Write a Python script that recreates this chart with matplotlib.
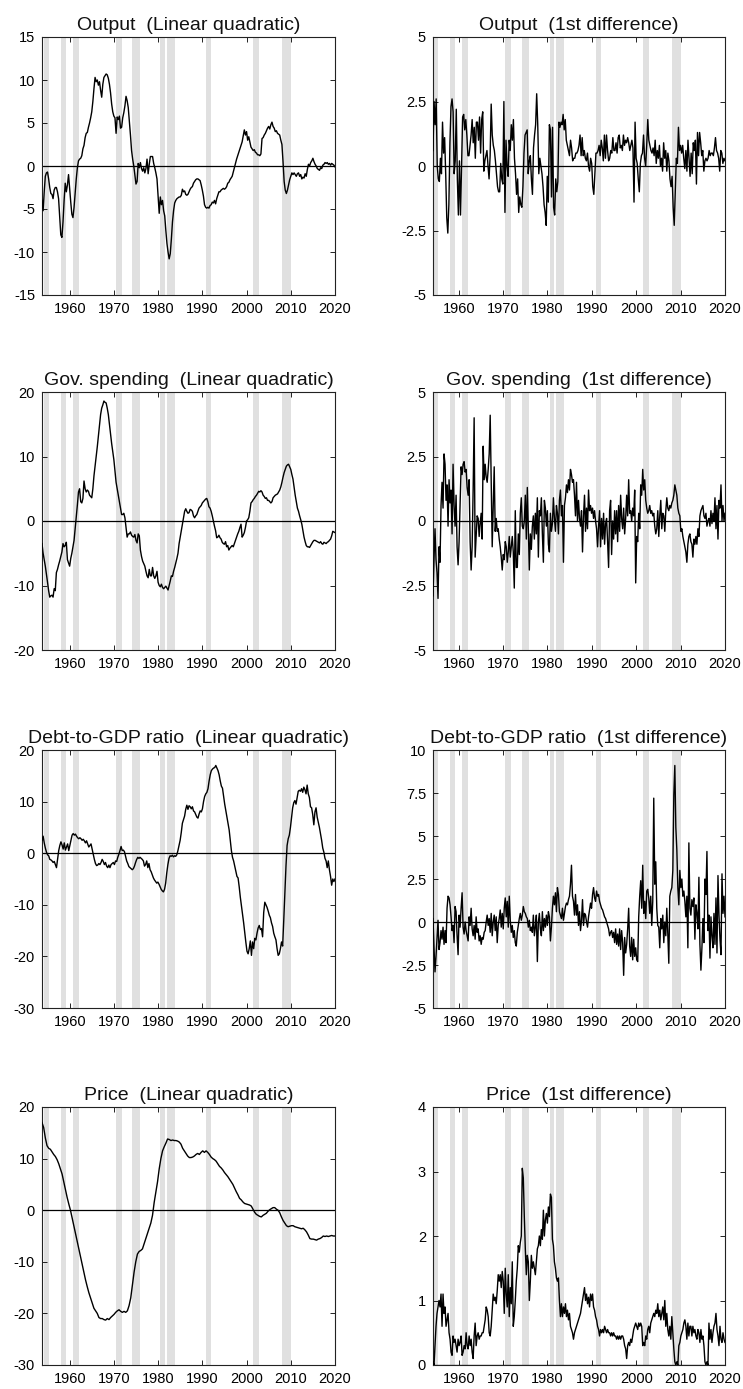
import numpy as np
import matplotlib
matplotlib.use("Agg")
import matplotlib.pyplot as plt
from matplotlib.ticker import FuncFormatter

plt.rcParams['font.family'] = ['Liberation Sans', 'DejaVu Sans']
plt.rcParams['axes.unicode_minus'] = False

# NBER-style recession shading (fractional years)
recession_start = [1954.2, 1958.0, 1960.65, 1970.35, 1974.15, 1980.5, 1982.0, 1990.9, 2001.55, 2008.1]
recession_end = [1955.3, 1959.1, 1962.0, 1971.75, 1975.9, 1981.45, 1983.75, 1991.95, 2002.85, 2010.1]

year_ticks = [1960, 1970, 1980, 1990, 2000, 2010, 2020]

# Linear-quadratic detrended series, quarterly from 1953Q4
output_lq = [
    -4.0,
    -5.2, -3.0, -1.2, -0.8, -0.7, -1.5, -2.5, -3.2, -3.3, -3.8, -2.8, -2.5,
    -2.5, -3.0, -3.8, -6.0, -8.0, -8.3, -6.5, -4.0, -2.0, -3.0, -2.2, -1.0,
    -2.6, -4.2, -5.6, -6.0, -4.8, -3.2, -1.5, -0.2, 0.6, 0.8, 0.9, 1.2,
    2.0, 2.4, 3.3, 3.8, 3.9, 4.5, 5.0, 5.6, 6.3, 7.5, 9.0, 10.3,
    9.8, 10.0, 9.4, 9.8, 8.8, 8.0, 9.5, 10.3, 10.5, 10.7, 10.6, 10.2,
    9.5, 8.5, 7.2, 6.3, 5.8, 5.6, 3.8, 5.7, 5.4, 5.8, 4.4, 4.5,
    5.6, 6.2, 7.0, 8.1, 7.6, 6.8, 5.2, 3.6, 1.8, 0.8, 0.0, -1.0,
    -2.1, -1.8, 0.3, -0.2, 0.4, -0.3, -0.6, -0.2, -0.8, -0.3, 0.8, -0.9,
    0.2, 1.1, 1.1, 1.1, 0.3, -0.2, -0.8, -1.5, -3.5, -5.5, -3.6, -4.5,
    -4.0, -5.2, -5.8, -7.5, -9.0, -10.0, -10.8, -10.2, -8.5, -6.5, -5.2, -4.3,
    -4.0, -3.8, -3.7, -3.6, -3.6, -3.4, -2.7, -3.0, -2.9, -3.3, -3.4, -3.3,
    -3.0, -2.7, -2.5, -2.4, -2.0, -1.8, -1.6, -1.5, -1.5, -1.6, -1.7, -2.2,
    -2.8, -3.5, -4.5, -4.8, -4.9, -4.8, -4.9, -4.6, -4.5, -4.2, -4.3, -4.0,
    -4.4, -3.8, -3.4, -3.0, -3.0, -2.8, -2.7, -2.6, -2.7, -2.6, -2.4, -2.0,
    -1.9, -1.6, -1.4, -1.2, -0.7, -0.2, 0.3, 0.8, 1.2, 1.6, 2.0, 2.4,
    2.8, 3.5, 4.2, 3.6, 4.0, 3.0, 3.4, 2.8, 2.2, 2.0, 1.8, 1.9,
    1.6, 1.5, 1.3, 1.3, 1.2, 1.4, 3.2, 3.3, 3.6, 3.8, 4.1, 4.4,
    4.6, 4.3, 4.8, 5.1, 4.6, 4.4, 4.0, 4.1, 3.8, 3.7, 3.6, 3.0,
    2.5, 0.5, -1.8, -2.8, -3.2, -2.8, -2.2, -1.6, -1.2, -0.8, -1.0, -0.8,
    -1.0, -1.2, -0.9, -0.8, -1.2, -1.0, -1.5, -1.3, -1.4, -0.9, -1.2, -0.4,
    0.2, 0.0, 0.4, 0.6, 0.9, 0.5, 0.2, 0.0, -0.3, -0.4, -0.5, -0.2,
    -0.3, 0.1, 0.2, 0.4, 0.3, 0.4, 0.2, 0.3, 0.1, 0.3, 0.2, 0.1,
    -0.1,
]

gov_lq = [
    -3.5,
    -5.0, -6.0, -7.0, -8.2, -9.5, -10.8, -11.8, -11.6, -11.5, -11.8, -10.5, -10.8,
    -8.0, -7.5, -6.8, -6.2, -5.5, -4.8, -3.5, -4.0, -3.8, -3.3, -6.0, -6.5,
    -7.0, -5.8, -5.0, -4.0, -3.0, -1.2, 0.5, 2.5, 4.5, 5.0, 3.0, 2.8,
    3.5, 6.2, 5.0, 4.5, 4.8, 4.6, 4.0, 3.8, 3.6, 5.0, 7.0, 8.5,
    10.0, 11.5, 13.2, 15.0, 16.5, 17.5, 18.0, 18.6, 18.4, 18.3, 17.5, 16.5,
    15.0, 13.5, 12.0, 10.8, 9.5, 7.8, 6.0, 5.0, 4.0, 3.0, 2.0, 1.0,
    1.0, 1.2, 0.5, -1.0, -2.5, -2.0, -2.0, -1.7, -2.2, -2.4, -2.5, -2.1,
    -3.0, -3.4, -2.0, -2.3, -4.5, -5.5, -6.2, -6.6, -7.0, -7.8, -8.5, -8.8,
    -7.5, -8.5, -8.5, -7.2, -8.5, -8.9, -8.5, -7.8, -9.5, -10.0, -10.2, -9.8,
    -10.3, -10.5, -10.3, -10.1, -10.4, -10.7, -10.0, -9.3, -8.5, -8.6, -7.8, -7.2,
    -6.5, -5.8, -5.0, -3.5, -2.5, -1.5, -0.5, 0.5, 1.5, 1.9, 1.5, 1.2,
    1.3, 1.8, 1.7, 1.5, 0.8, 0.5, 0.8, 1.0, 1.5, 2.0, 2.2, 2.4,
    2.8, 3.0, 3.2, 3.4, 3.5, 3.0, 2.2, 2.0, 1.5, 0.8, 0.0, -0.8,
    -1.5, -2.6, -2.5, -2.2, -2.6, -2.8, -3.3, -3.5, -3.6, -3.2, -4.0, -3.8,
    -4.5, -4.2, -4.0, -3.8, -4.0, -3.5, -3.0, -2.5, -2.0, -1.6, -1.0, -0.5,
    -2.5, -2.2, -1.8, -1.0, 0.0, 0.2, 0.5, 1.5, 2.8, 3.0, 3.3, 3.5,
    3.8, 4.0, 4.3, 4.6, 4.5, 4.7, 4.5, 4.0, 3.8, 3.5, 3.6, 3.2,
    3.2, 3.0, 2.8, 3.0, 3.6, 3.8, 4.0, 4.1, 4.2, 4.5, 4.8, 5.3,
    6.0, 6.8, 7.5, 8.0, 8.5, 8.7, 8.8, 8.4, 8.0, 7.2, 6.5, 5.2,
    4.0, 3.0, 2.0, 1.5, 0.8, 0.2, -0.5, -1.5, -2.5, -3.2, -3.8, -4.0,
    -4.0, -4.1, -3.8, -3.5, -3.2, -3.0, -3.0, -3.1, -3.2, -3.3, -3.4, -3.2,
    -3.5, -3.6, -3.3, -3.4, -3.5, -3.3, -3.2, -3.0, -2.8, -2.3, -1.6, -1.7,
    -1.8,
]

debt_lq = [
    2.5, 3.3, 2.0, 1.0, 0.2, -0.3, -0.5, -1.2, -1.3, -1.5, -1.8, -1.6, -2.2, -2.8,
    -1.2, 0.5, 1.5, 2.2, 1.6, 0.8, 2.0, 0.6, 1.2, 1.8, 0.5, 1.5, 2.5, 3.5, 3.8,
    3.5, 3.7, 3.3, 3.0, 2.8, 3.0, 2.8, 2.5, 2.7, 2.4, 2.0, 2.4, 1.8, 1.2, 1.5, 1.8,
    0.8, -0.3, -1.2, -2.0, -2.4, -2.3, -2.0, -2.2, -1.8, -1.2, -1.6, -2.2, -1.8,
    -2.5, -2.8, -2.3, -2.8, -2.2, -2.0, -1.8, -2.2, -1.5, -1.6, -0.8, -0.2, 0.5,
    1.3, 0.5, 0.6, 0.3, -0.6, -1.5, -2.0, -2.6, -2.8, -3.0, -3.2, -3.0, -2.5, -1.8,
    -1.2, -0.8, -1.0, -0.8, -1.0, -1.2, -1.5, -2.5, -2.2, -1.5, -2.8, -2.0, -3.2,
    -3.6, -4.2, -4.8, -5.2, -5.5, -5.8, -5.6, -6.0, -6.5, -7.0, -7.3, -7.5, -7.0,
    -5.8, -3.8, -2.2, -1.0, -0.5, -0.6, -0.4, -0.7, -0.5, -0.6, -0.3, 0.5, 1.5,
    2.5, 4.0, 5.8, 6.5, 7.2, 8.5, 9.3, 8.5, 9.2, 9.0, 8.6, 9.0, 8.2, 8.0, 7.5,
    7.0, 6.8, 7.6, 8.2, 8.0, 8.6, 10.0, 11.0, 11.5, 11.8, 12.5, 14.0, 15.2, 16.0,
    16.3, 16.5, 16.6, 17.0, 16.5, 16.0, 15.2, 14.0, 13.0, 12.6, 11.0, 9.5, 8.2,
    7.0, 5.8, 4.5, 2.5, 0.5, -0.8, -1.5, -2.5, -3.5, -4.5, -4.8, -6.5, -8.5,
    -10.2, -12.0, -13.5, -15.5, -17.3, -19.0, -19.5, -18.5, -17.0, -19.8, -17.2,
    -18.5, -16.5, -16.8, -15.5, -14.5, -14.0, -14.8, -14.6, -16.2, -11.5, -9.5,
    -10.0, -10.5, -11.2, -12.0, -12.5, -13.5, -14.2, -15.5, -16.2, -16.8, -18.5,
    -19.8, -19.5, -18.5, -17.2, -18.0, -13.0, -7.5, -2.5, 1.5, 2.8, 3.5, 5.0,
    7.0, 8.8, 9.8, 10.2, 9.5, 10.8, 12.0, 12.2, 12.0, 12.5, 11.8, 12.8, 12.3,
    11.5, 13.2, 11.5, 10.8, 9.0, 8.8, 7.5, 5.5, 8.0, 8.8, 7.0, 6.0, 5.0, 3.8,
    2.5, 1.0, 0.2, -1.0, -1.5, -2.8, -1.5, -3.2, -4.5, -6.2, -5.0, -5.5, -5.0,
]

price_lq = [
    17.0, 16.0, 14.0, 12.5, 12.0, 11.8, 11.3, 10.8, 10.4, 9.8, 9.0, 8.0, 7.0,
    5.5, 4.0, 2.5, 1.2, 0.0, -1.5, -3.0, -4.5, -6.0, -7.5, -9.0, -10.5, -12.0,
    -13.5, -14.8, -16.0, -17.0, -18.0, -19.0, -19.5, -20.0, -20.8, -21.0, -21.0,
    -21.2, -21.3, -21.0, -21.2, -20.8, -20.5, -20.2, -19.8, -19.5, -19.3, -19.6,
    -19.8, -19.6, -19.8, -19.5, -18.5, -17.0, -14.5, -12.0, -10.0, -8.5, -8.0,
    -7.8, -7.5, -6.5, -5.5, -4.5, -3.5, -2.5, -1.0, 1.5, 3.5, 5.5, 8.0, 10.0,
    11.5, 12.3, 13.0, 13.8, 13.7, 13.5, 13.6, 13.5, 13.5, 13.4, 13.2, 12.8, 12.0,
    11.5, 11.0, 10.5, 10.2, 10.2, 10.3, 10.5, 10.8, 11.0, 10.8, 11.2, 11.5, 11.2,
    11.5, 11.2, 10.8, 10.3, 10.0, 9.8, 9.5, 9.0, 8.5, 8.2, 7.8, 7.3, 6.9, 6.5,
    6.0, 5.5, 5.0, 4.3, 3.6, 3.0, 2.3, 2.0, 1.6, 1.3, 1.2, 1.1, 1.0, 0.8, 0.2,
    -0.4, -0.8, -1.0, -1.2, -1.3, -1.0, -0.8, -0.6, -0.2, 0.1, 0.3, 0.5, 0.5,
    0.2, 0.0, -0.5, -1.3, -2.0, -2.5, -3.0, -3.2, -3.1, -3.0, -3.0, -3.2, -3.3,
    -3.4, -3.5, -3.6, -3.5, -3.8, -4.2, -4.8, -5.5, -5.6, -5.6, -5.7, -5.8, -5.6,
    -5.5, -5.3, -5.0, -5.1, -5.0, -5.1, -5.0, -4.9, -5.0, -5.0,
]

# First-difference series, quarterly from 1954Q2
output_diff = [
    0.6, 2.5, 1.6, 2.6, 0.0, -0.5, -0.6, 0.3, -0.3, 1.7, 0.5, 1.1, -0.3, -2.0,
    -2.6, -1.5, 0.9, 2.3, 2.6, 2.1, -0.3, 0.2, 2.2, -0.5, -1.9, 0.2, -1.9, 0.1,
    1.9, 2.0, 1.4, 1.8, 1.2, 0.4, 0.4, 0.8, 1.2, 1.8, 0.9, 1.5, 0.3, 1.7, 1.7,
    1.0, 1.9, 0.5, 1.8, 2.1, -0.2, 0.2, 0.4, 0.6, 0.0, -0.5, 0.4, 2.4, 1.2, 0.8,
    0.6, 0.2, -0.3, -0.8, -1.0, -1.0, 0.1, -0.5, -0.7, 2.5, -1.8, 1.0, 0.0, -0.4,
    1.0, 0.6, 1.6, 1.0, 1.8, 0.3, -0.3, -1.1, -0.5, -1.8, -1.2, -1.5, -1.6, -0.8,
    0.5, 1.2, 1.3, 1.4, -0.3, 0.2, 0.4, -0.5, -1.1, 0.7, 1.2, 1.6, 2.8, 1.6, -0.3,
    0.3, 0.0, -0.3, -0.8, -1.5, -1.8, -2.3, -0.4, -1.4, 1.6, 1.4, -1.2, 1.5, -1.6,
    -1.9, -0.5, -1.0, -0.6, 1.7, 1.5, 1.7, 1.6, 2.0, 1.4, 1.8, 1.0, 0.8, 0.6, 0.4,
    1.0, 0.7, 0.2, 0.3, 0.3, 0.5, 0.5, 0.6, 0.8, 1.2, 0.4, 1.1, 0.4, 0.6, 0.3,
    0.2, 0.5, 0.0, -0.2, 0.3, 0.1, -0.8, -1.1, -0.3, 0.5, 0.5, 0.6, 0.8, 0.4, 1.0,
    0.7, 0.2, 1.2, 0.3, 1.2, 0.6, 0.2, 0.3, 0.6, 0.5, 1.1, 0.6, 0.6, 0.9, 0.5,
    1.1, 1.2, 0.7, 0.8, 0.6, 1.2, 0.8, 1.0, 0.9, 1.1, 0.9, 0.6, 0.8, 1.0, 0.7,
    -1.4, 1.7, 0.3, 0.1, -0.5, -1.0, 0.1, 0.4, 0.5, 1.2, 0.3, 0.0, 0.8, 1.8, 1.0,
    0.8, 0.6, 0.5, 0.7, 0.4, 1.0, 0.1, 0.6, 0.3, 0.8, 0.0, 0.3, -0.2, 0.9, 0.3,
    0.6, -0.2, 0.5, 0.2, -0.5, -0.8, -0.4, -1.6, -2.3, -1.0, 0.3, 0.1, 1.5, 0.6,
    0.8, 0.5, 0.8, 0.3, -0.1, 0.6, -0.2, 1.0, 0.3, -0.4, 0.5, -0.3, 0.9, 0.6, 1.0,
    -0.7, 1.3, 0.4, 1.3, 0.9, 0.4, 0.6, -0.2, 0.2, 0.3, 0.2, 0.3, 0.6, 0.4, 0.5,
    0.5, 0.4, 0.7, 1.1, 0.6, 0.5, 0.3, -0.2, 0.6, 0.5, 0.1, 0.3, 0.2,
]

gov_diff = [
    -2.9, -1.5, -0.3, -1.5, -2.0, -3.0, -1.0, -1.6, 0.6, 1.5, 0.5, 2.6, 2.2, 0.8,
    1.4, -0.2, 1.6, 0.7, 1.2, -0.5, 2.2, 0.6, -0.2, 1.0, -1.0, -1.7, -0.8, 0.6,
    2.1, 1.8, 2.2, 2.3, 1.9, 2.0, 1.3, 1.0, 1.6, -0.8, -1.9, -1.0, 1.2, 4.0, -1.4,
    -0.6, 0.2, 0.1, -0.6, -0.1, 0.3, -0.7, 2.9, 1.6, 2.2, 1.7, 1.5, 2.0, 2.6, 4.1,
    1.5, -1.0, 0.5, 2.1, -0.4, 0.1, -0.4, -0.3, -0.7, -1.0, -1.4, -1.9, -1.3, -1.5,
    -0.8, -1.0, -1.6, -1.2, -0.6, -1.4, -1.0, -0.6, -1.2, -2.6, 0.4, -1.8, -1.8,
    -0.5, -1.3, 0.3, 0.9, -0.2, -0.3, 0.0, 1.0, -0.7, 1.3, -0.3, -1.9, -0.5, -1.1,
    -0.2, 0.2, -0.7, 0.3, -0.5, 0.9, -1.4, 0.4, 0.2, 0.9, -0.5, -1.6, 0.8, 0.5,
    -0.2, 0.4, -0.9, -1.2, 0.3, -0.4, -0.1, 0.9, 0.1, -0.4, 0.6, 0.3, -0.5, 0.8,
    1.2, 0.2, 0.6, -1.6, 0.6, 0.9, 1.4, 1.1, 1.6, 1.2, 2.0, 1.8, 1.5, 1.6, 1.0,
    0.2, 1.5, 0.0, 0.8, 0.1, -0.2, 0.4, -1.2, 0.2, 1.0, -0.4, 0.5, -0.3, 1.2, 0.4,
    0.6, 0.3, 0.5, 0.1, 0.4, 0.0, -0.3, -1.0, -0.2, 0.4, -1.0, 0.1, -0.7, 0.3,
    -0.9, -0.1, 0.1, -0.8, -1.8, 0.4, 0.8, -1.3, 0.0, -0.7, 0.4, -0.5, 0.4, -0.8,
    0.6, -0.4, 1.0, 0.1, -0.3, 0.5, -0.5, 0.1, 1.0, 0.2, 1.6, 0.3, 0.4, 0.0, 0.5,
    0.2, 1.2, -2.4, -0.6, -0.8, 0.3, -0.3, 1.4, 1.0, 2.0, 1.2, 1.6, 0.8, 0.5, 0.3,
    0.4, 0.6, 0.3, 0.4, 0.2, 0.3, -0.2, -0.5, -0.3, 0.4, -0.6, 0.2, 0.8, -0.3, 0.3,
    0.2, -0.4, 0.4, 0.9, 0.5, 0.4, 0.6, 0.5, 0.7, 0.8, 1.0, 1.4, 1.2, 1.0, 0.5,
    0.3, 0.2, -0.4, -0.3, -0.6, -0.8, -1.0, -1.2, -1.6, -0.9, -0.6, -0.5, -0.8,
    -0.9, -1.4, -0.7, -0.9, -0.6, -0.9, -0.3, -0.6, 0.2, 0.4, 0.5, 0.6, 0.2, 0.1,
    0.3, -0.2, 0.0, 0.1, -0.2, 0.4, -0.1, 0.3, 0.0, 0.9, -0.3, 0.6, -0.7, 0.8, 0.5,
    1.4, 0.0, 0.6, 0.0, 0.3,
]

debt_diff = [
    0.2, -1.5, -2.9, -2.0, -1.0, 0.1, -1.6, -1.2, -0.5, -1.0, -0.3, -1.3, -0.5,
    -1.2, 0.8, 1.5, 1.4, 1.0, 0.3, -0.5, -0.2, -1.2, 0.9, 0.6, -0.8, -1.9, 0.4,
    -0.3, 0.8, 1.7, -0.3, -0.7, 0.0, -0.5, -0.8, -1.1, 0.3, -0.2, 0.8, -0.4, -0.8,
    -0.2, -1.0, 0.3, -0.6, -0.4, -1.1, -0.8, -1.3, -0.9, -1.0, -0.6, -0.5, 0.0,
    0.4, -0.2, 0.2, -0.6, 0.5, -0.8, 0.0, 0.4, -0.5, 0.3, -1.2, -0.2, 0.2, 0.7,
    -0.3, 0.5, -0.4, 0.8, 1.4, 0.3, 1.2, -0.3, 1.5, 0.1, -0.6, -0.2, -0.9, -0.5,
    -1.2, -1.4, -0.6, -0.2, 0.2, 0.5, 0.1, 0.4, 0.9, 0.6, 0.5, 0.3, 0.2, -0.3,
    0.1, -0.5, -0.3, -0.6, 0.4, -0.8, -0.3, 0.4, -2.3, 0.0, 0.5, -0.4, -0.8, 0.6,
    -0.5, 0.2, -0.3, 0.4, -0.2, 0.6, 0.3, -1.1, -0.3, 0.8, 1.5, 1.0, 1.7, 0.6,
    2.0, 1.6, 0.6, 0.4, 0.2, 0.8, 0.1, 0.5, 0.9, 1.1, 1.0, 1.3, 1.5, 2.2, 3.3,
    1.5, 1.2, 0.4, 1.6, 0.4, 1.0, -0.2, 0.6, -0.5, 0.1, 1.3, -0.2, 0.5, 0.4, 0.0,
    -0.3, 0.3, 0.7, 1.1, 0.8, 1.6, 2.0, 1.4, 1.2, 1.8, 1.5, 1.6, 1.2, 1.0, 0.8,
    0.7, 0.5, 0.3, 0.2, 0.0, -0.2, -0.4, -0.8, -0.6, -0.5, -0.9, -0.6, -1.2, -0.4,
    -1.3, -0.7, -1.4, -0.4, -1.6, -0.5, -1.2, -3.1, -0.9, -1.8, -1.3, -0.4, 0.8,
    -1.4, -2.0, -0.9, -2.2, -1.0, -2.0, -1.5, -2.2, -2.3, 0.3, 1.5, 2.4, 0.8, 3.3,
    0.5, 1.2, 0.2, 1.8, 1.9, 1.4, 0.5, 1.5, -0.2, 1.2, 7.2, 2.2, 3.5, 0.8, -0.2,
    -0.3, -1.5, 0.2, -0.4, 0.4, -1.2, 0.0, -0.8, 0.8, -0.7, -2.4, 1.5, 1.8, 2.0,
    3.0, 7.4, 9.1, 5.5, 4.2, 2.0, 1.0, 3.0, 2.0, 2.5, 1.5, 1.8, 1.2, 0.3, 1.5,
    -1.5, 4.6, 0.8, 0.4, 1.3, 0.9, 1.4, -1.0, 1.0, 0.5, -0.4, 2.6, -1.3, -2.8,
    -1.5, 0.2, -1.2, 2.5, 1.6, 4.1, -0.5, 0.4, -2.1, 0.3, -0.8, -1.5, 0.5, -1.3,
    1.4, -1.8, 2.7, 0.4, -1.0, -1.9, 2.8, 0.5, 1.5, 0.3,
]

price_diff = [
    0.05, 0.0, 0.3, 0.6, 0.8, 0.9, 1.0, 0.9, 1.1, 0.6, 1.1, 0.8, 0.9, 0.6, 0.7,
    0.8, 0.5, 0.4, 0.2, 0.15, 0.45, 0.35, 0.4, 0.3, 0.2, 0.4, 0.3, 0.35, 0.45,
    0.15, 0.2, 0.3, 0.25, 0.5, 0.3, 0.25, 0.45, 0.3, 0.4, 0.2, 0.1, 0.45, 0.65,
    0.3, 0.45, 0.5, 0.4, 0.45, 0.45, 0.5, 0.5, 0.6, 0.7, 0.9, 0.85, 0.75, 0.5,
    0.45, 0.6, 0.85, 1.1, 1.0, 1.05, 0.95, 1.15, 1.4, 1.3, 1.4, 1.2, 1.45, 1.3,
    0.8, 1.5, 1.1, 0.9, 1.4, 0.75, 1.2, 0.95, 1.6, 0.6, 0.75, 1.0, 1.3, 1.5, 1.85,
    1.75, 1.9, 2.0, 3.05, 2.9, 2.3, 1.8, 1.4, 1.7, 1.6, 1.0, 1.3, 1.7, 1.5, 1.6,
    1.5, 1.4, 1.6, 1.8, 1.85, 2.0, 1.85, 2.1, 1.95, 2.4, 2.0, 2.25, 2.35, 2.2,
    2.45, 2.3, 2.65, 2.6, 1.95, 1.85, 1.6, 1.5, 1.35, 1.3, 1.35, 1.0, 0.75, 0.95,
    0.75, 0.9, 0.8, 0.95, 0.75, 0.85, 0.7, 0.8, 0.6, 0.55, 0.5, 0.4, 0.5, 0.55,
    0.6, 0.65, 0.7, 0.75, 0.8, 0.9, 1.0, 1.1, 1.2, 1.0, 1.1, 0.95, 1.05, 0.9, 1.1,
    1.0, 1.1, 0.9, 0.85, 0.75, 0.7, 0.6, 0.55, 0.45, 0.55, 0.5, 0.55, 0.5, 0.6,
    0.55, 0.5, 0.55, 0.5, 0.5, 0.45, 0.5, 0.45, 0.5, 0.45, 0.45, 0.4, 0.45, 0.4,
    0.45, 0.4, 0.45, 0.45, 0.4, 0.3, 0.25, 0.1, 0.3, 0.35, 0.3, 0.4, 0.35, 0.45,
    0.55, 0.6, 0.65, 0.6, 0.55, 0.65, 0.6, 0.65, 0.6, 0.3, 0.35, 0.3, 0.45, 0.4,
    0.55, 0.6, 0.5, 0.65, 0.7, 0.75, 0.8, 0.75, 0.85, 0.8, 0.95, 0.75, 0.85, 0.7,
    0.8, 0.9, 0.7, 1.0, 0.6, 0.8, 0.55, 0.45, 0.6, 0.4, 0.75, 0.5, 0.25, 0.05,
    0.0, 0.05, 0.0, 0.3, 0.35, 0.45, 0.5, 0.55, 0.65, 0.7, 0.6, 0.4, 0.65, 0.45,
    0.6, 0.6, 0.45, 0.6, 0.5, 0.55, 0.45, 0.4, 0.55, 0.5, 0.35, 0.55, 0.4, 0.45,
    0.3, 0.05, 0.0, 0.05, 0.0, 0.65, 0.4, 0.55, 0.35, 0.5, 0.6, 0.65, 0.8, 0.55,
    0.45, 0.3, 0.6, 0.4, 0.35, 0.5, 0.4, 0.35,
]

panels = [
    ("Output  (Linear quadratic)", output_lq, "lq", [-15, -10, -5, 0, 5, 10, 15]),
    ("Output  (1st difference)", output_diff, "diff", [-5, -2.5, 0, 2.5, 5]),
    ("Gov. spending  (Linear quadratic)", gov_lq, "lq", [-20, -10, 0, 10, 20]),
    ("Gov. spending  (1st difference)", gov_diff, "diff", [-5, -2.5, 0, 2.5, 5]),
    ("Debt-to-GDP ratio  (Linear quadratic)", debt_lq, "lq", [-30, -20, -10, 0, 10, 20]),
    ("Debt-to-GDP ratio  (1st difference)", debt_diff, "diff", [-5, -2.5, 0, 2.5, 5, 7.5, 10]),
    ("Price  (Linear quadratic)", price_lq, "lq", [-30, -20, -10, 0, 10, 20]),
    ("Price  (1st difference)", price_diff, "diff", [0, 1, 2, 3, 4]),
]

W, H = 743, 1389
fig = plt.figure(figsize=(W / 100, H / 100), dpi=100)
fig.patch.set_facecolor("white")

col_left = [42, 433]
col_width = [293, 292]
row_top = [37, 392, 750, 1107]
row_height = 258
x_start = {"lq": 1953.7, "diff": 1954.2}
x_end = 2020.0

fmt = FuncFormatter(lambda v, p: "{:g}".format(v))

for k, (title, values, kind, yticks) in enumerate(panels):
    r, c = divmod(k, 2)
    left = col_left[c] / W
    bottom = 1 - (row_top[r] + row_height) / H
    ax = fig.add_axes([left, bottom, col_width[c] / W, row_height / H])

    for s, e in zip(recession_start, recession_end):
        ax.axvspan(s, e, color="#e0e0e0", lw=0, zorder=0)

    dates = np.linspace(x_start[kind], x_end, len(values))
    ax.axhline(0, color="black", lw=0.9, zorder=2)
    ax.plot(dates, values, color="black", lw=1.0, zorder=3)

    ax.set_xlim(x_start[kind], x_end)
    ax.set_ylim(yticks[0], yticks[-1])
    ax.set_xticks(year_ticks)
    ax.set_yticks(yticks)
    ax.yaxis.set_major_formatter(fmt)
    ax.tick_params(direction="in", top=True, right=True, length=3.5, width=0.6,
                   labelsize=10.5, pad=5, colors="black")
    for sp in ax.spines.values():
        sp.set_linewidth(0.8)
        sp.set_color("#222222")
    ax.set_title(title, fontsize=14, pad=5, color="#111111")

fig.savefig("out.png", dpi=100, facecolor="white")
